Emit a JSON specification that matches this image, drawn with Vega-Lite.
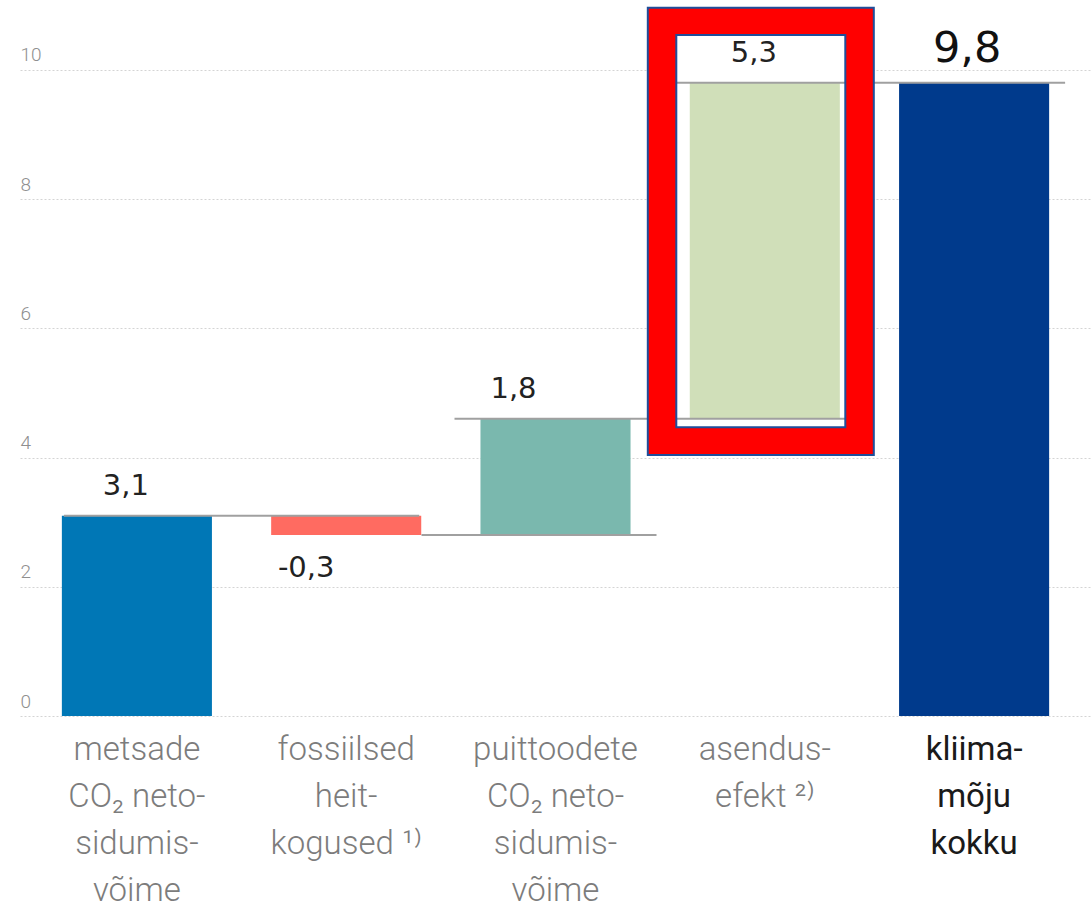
{
  "$schema": "https://vega.github.io/schema/vega-lite/v6.json",
  "width": 1071,
  "height": 716,
  "autosize": {"type": "none"},
  "padding": {"left": 20, "top": 0, "right": 0, "bottom": 192},
  "config": {
    "view": {"stroke": null},
    "locale": {"number": {"decimal": ",", "thousands": " ", "grouping": [3], "currency": ["", " €"], "minus": "-"}}
  },
  "datasets": {
    "riba": [
      {"id": "metsad", "kat": "metsade|CO₂ neto-|sidumis-|võime", "algus": 0, "lopp": 3.1, "muutus": 3.1},
      {"id": "fossiil", "kat": "fossiilsed|heit-|kogused ¹⁾", "algus": 3.1, "lopp": 2.8, "muutus": -0.3},
      {"id": "puit", "kat": "puittoodete|CO₂ neto-|sidumis-|võime", "algus": 2.8, "lopp": 4.6, "muutus": 1.8},
      {"id": "asendus", "kat": "asendus-|efekt ²⁾", "algus": 4.6, "lopp": 9.8, "muutus": 5.3},
      {"id": "kokku", "kat": "kliima-|mõju|kokku", "algus": 0, "lopp": 9.8, "muutus": 9.8}
    ],
    "uhendused": [
      {"nr": 1, "alates": "metsade|CO₂ neto-|sidumis-|võime", "kuni": "fossiilsed|heit-|kogused ¹⁾", "tase": 3.1},
      {"nr": 2, "alates": "puittoodete|CO₂ neto-|sidumis-|võime", "kuni": "puittoodete|CO₂ neto-|sidumis-|võime", "tase": 2.8},
      {"nr": 3, "alates": "puittoodete|CO₂ neto-|sidumis-|võime", "kuni": "asendus-|efekt ²⁾", "tase": 4.6},
      {"nr": 4, "alates": "asendus-|efekt ²⁾", "kuni": "kliima-|mõju|kokku", "tase": 9.8}
    ]
  },
  "data": {"name": "riba"},
  "encoding": {
    "x": {
      "field": "kat",
      "type": "nominal",
      "title": null,
      "scale": {
        "domain": [
          "metsade|CO₂ neto-|sidumis-|võime",
          "fossiilsed|heit-|kogused ¹⁾",
          "puittoodete|CO₂ neto-|sidumis-|võime",
          "asendus-|efekt ²⁾",
          "kliima-|mõju|kokku"
        ],
        "paddingInner": 0.283,
        "paddingOuter": 0.2
      },
      "axis": {
        "title": null,
        "labelExpr": "split(datum.label, '|')",
        "labelAngle": 0,
        "labelFont": "Roboto",
        "labelFontSize": 33,
        "labelLineHeight": 47,
        "labelPadding": 17,
        "labelBaseline": "top",
        "labelLimit": 400,
        "labelOverlap": false,
        "ticks": false,
        "tickSize": 0,
        "domain": false,
        "grid": false,
        "labelColor": {"condition": {"test": "indexof(datum.value, 'kokku') >= 0", "value": "#1a1a1a"}, "value": "#7c7c7c"},
        "labelFontWeight": {"condition": {"test": "indexof(datum.value, 'kokku') >= 0", "value": 400}, "value": 300}
      }
    }
  },
  "layer": [
    {
      "transform": [{"filter": "datum.id == 'asendus'"}],
      "mark": {"type": "bar", "width": 169, "xOffset": -4, "fill": "#ffffff"},
      "encoding": {"y": {"datum": 10.54}, "y2": {"datum": 4.47}}
    },
    {
      "mark": {"type": "bar"},
      "encoding": {
        "y": {
          "field": "lopp",
          "type": "quantitative",
          "title": null,
          "scale": {"domain": [0, 11.08], "nice": false},
          "axis": {
            "title": null,
            "values": [0, 2, 4, 6, 8, 10],
            "format": "d",
            "grid": true,
            "gridColor": "#d4d4d4",
            "gridDash": [2, 2],
            "gridWidth": 1,
            "ticks": false,
            "tickSize": 0,
            "domain": false,
            "labelAlign": "left",
            "labelBaseline": "alphabetic",
            "labelPadding": 0,
            "labelOffset": -9,
            "labelFont": "Roboto",
            "labelFontSize": 19,
            "labelFontWeight": 300,
            "labelColor": "#8f8f8f"
          }
        },
        "y2": {"field": "algus"},
        "color": {
          "field": "id",
          "type": "nominal",
          "legend": null,
          "scale": {
            "domain": ["metsad", "fossiil", "puit", "asendus", "kokku"],
            "range": ["#0077b6", "#ff6b61", "#7ab8ae", "#d0dfb9", "#003a8c"]
          }
        }
      }
    },
    {
      "data": {"name": "uhendused"},
      "transform": [{"filter": "datum.nr == 1"}],
      "mark": {"type": "rule", "color": "#a0a0a0", "strokeWidth": 2, "xOffset": -73, "x2Offset": 73},
      "encoding": {
        "x": {"field": "alates", "type": "nominal", "title": null},
        "x2": {"field": "kuni"},
        "y": {"field": "tase", "type": "quantitative", "title": null}
      }
    },
    {
      "data": {"name": "uhendused"},
      "transform": [{"filter": "datum.nr == 2"}],
      "mark": {"type": "rule", "color": "#a0a0a0", "strokeWidth": 2, "xOffset": -134, "x2Offset": 101},
      "encoding": {
        "x": {"field": "alates", "type": "nominal", "title": null},
        "x2": {"field": "kuni"},
        "y": {"field": "tase", "type": "quantitative", "title": null}
      }
    },
    {
      "data": {"name": "uhendused"},
      "transform": [{"filter": "datum.nr == 3"}],
      "mark": {"type": "rule", "color": "#a0a0a0", "strokeWidth": 2, "xOffset": -101, "x2Offset": 105},
      "encoding": {
        "x": {"field": "alates", "type": "nominal", "title": null},
        "x2": {"field": "kuni"},
        "y": {"field": "tase", "type": "quantitative", "title": null}
      }
    },
    {
      "data": {"name": "uhendused"},
      "transform": [{"filter": "datum.nr == 4"}],
      "mark": {"type": "rule", "color": "#a0a0a0", "strokeWidth": 2, "xOffset": -95, "x2Offset": 91},
      "encoding": {
        "x": {"field": "alates", "type": "nominal", "title": null},
        "x2": {"field": "kuni"},
        "y": {"field": "tase", "type": "quantitative", "title": null}
      }
    },
    {
      "transform": [{"filter": "datum.id == 'asendus'"}],
      "mark": {"type": "bar", "width": 197.5, "xOffset": -4, "fillOpacity": 0, "stroke": "#ff0000", "strokeWidth": 28},
      "encoding": {"y": {"datum": 10.75}, "y2": {"datum": 4.255}}
    },
    {
      "transform": [{"filter": "datum.id == 'asendus'"}],
      "mark": {"type": "bar", "width": 226, "xOffset": -4, "fillOpacity": 0, "stroke": "#1f4e9a", "strokeWidth": 2},
      "encoding": {"y": {"datum": 10.96}, "y2": {"datum": 4.04}}
    },
    {
      "transform": [{"filter": "datum.id == 'asendus'"}],
      "mark": {"type": "bar", "width": 169, "xOffset": -4, "fillOpacity": 0, "stroke": "#1f4e9a", "strokeWidth": 2},
      "encoding": {"y": {"datum": 10.54}, "y2": {"datum": 4.47}}
    },
    {
      "transform": [{"filter": "datum.id == 'metsad' || datum.id == 'asendus'"}],
      "mark": {"type": "text", "font": "DejaVu Sans", "fontSize": 29, "color": "#222222", "baseline": "alphabetic", "dx": -11, "dy": -21},
      "encoding": {
        "y": {"field": "lopp", "type": "quantitative"},
        "text": {"field": "muutus", "type": "quantitative", "format": ".1f"}
      }
    },
    {
      "transform": [{"filter": "datum.id == 'puit'"}],
      "mark": {"type": "text", "font": "DejaVu Sans", "fontSize": 29, "color": "#222222", "baseline": "alphabetic", "dx": -42, "dy": -21},
      "encoding": {
        "y": {"field": "lopp", "type": "quantitative"},
        "text": {"field": "muutus", "type": "quantitative", "format": ".1f"}
      }
    },
    {
      "transform": [{"filter": "datum.id == 'fossiil'"}],
      "mark": {"type": "text", "font": "DejaVu Sans", "fontSize": 29, "color": "#222222", "baseline": "alphabetic", "dx": -40, "dy": 42},
      "encoding": {
        "y": {"field": "lopp", "type": "quantitative"},
        "text": {"field": "muutus", "type": "quantitative", "format": ".1f"}
      }
    },
    {
      "transform": [{"filter": "datum.id == 'kokku'"}],
      "mark": {"type": "text", "font": "DejaVu Sans", "fontSize": 43, "color": "#111111", "baseline": "alphabetic", "dx": -7, "dy": -21},
      "encoding": {
        "y": {"field": "lopp", "type": "quantitative"},
        "text": {"field": "muutus", "type": "quantitative", "format": ".1f"}
      }
    }
  ]
}
